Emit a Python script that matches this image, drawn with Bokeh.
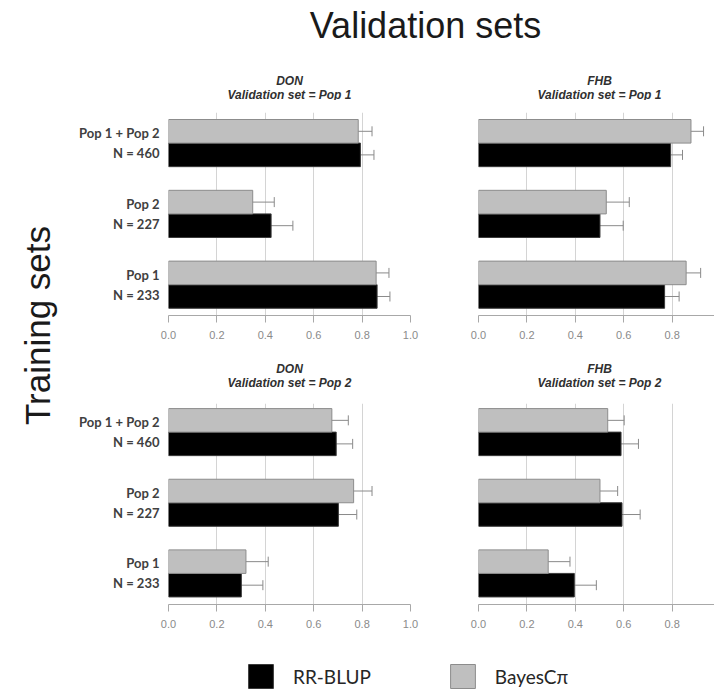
import numpy as np
from bokeh.plotting import figure
from bokeh.layouts import column, row
from bokeh.models import (ColumnDataSource, Range1d, FixedTicker, Whisker, TeeHead,
                          Label, Legend, LegendItem, NumeralTickFormatter)
from bokeh.transform import dodge
from bokeh.embed import file_html
from bokeh.resources import INLINE

# ---------------- data ----------------
categories = ["Pop 1\nN = 233", "Pop 2\nN = 227", "Pop 1 + Pop 2\nN = 460"]  # bottom -> top
x_ticks = [0.0, 0.2, 0.4, 0.6, 0.8, 1.0]
methods = ["RR-BLUP", "BayesCπ"]
traits = ["DON", "FHB"]
validation = ["Validation set = Pop 1", "Validation set = Pop 2"]

don_pop1_rr = [0.862, 0.424, 0.793]
don_pop1_rr_err = [0.053, 0.090, 0.056]
don_pop1_bc = [0.858, 0.348, 0.784]
don_pop1_bc_err = [0.053, 0.089, 0.057]

fhb_pop1_rr = [0.769, 0.502, 0.794]
fhb_pop1_rr_err = [0.060, 0.096, 0.049]
fhb_pop1_bc = [0.858, 0.528, 0.878]
fhb_pop1_bc_err = [0.060, 0.095, 0.052]

don_pop2_rr = [0.301, 0.702, 0.693]
don_pop2_rr_err = [0.089, 0.076, 0.068]
don_pop2_bc = [0.320, 0.765, 0.675]
don_pop2_bc_err = [0.092, 0.076, 0.068]

fhb_pop2_rr = [0.396, 0.593, 0.589]
fhb_pop2_rr_err = [0.091, 0.075, 0.072]
fhb_pop2_bc = [0.288, 0.502, 0.534]
fhb_pop2_bc_err = [0.090, 0.073, 0.068]

# ---------------- style / layout ----------------
W, H = 714, 691
HEADER_H, MID_H, FOOTER_H, SIDE_W = 100, 47, 51, 62
TOP_H, BOT_H = 245, 248
LEFT_W, RIGHT_W = 378, 274
LEFT_BL, RIGHT_BL = 106, 38
PX_PER_UNIT = 242.0

RR_COLOR, RR_LINE = "#000000", "#3a3a3a"
BC_COLOR, BC_LINE = "#bfbfbf", "#8c8c8c"
ERR_COLOR = "#8a8a8a"
GRID_COLOR = "#d4d4d4"
AXIS_COLOR = "#a8a8a8"
TICK_LABEL_COLOR = "#8a8a8a"
TITLE_COLOR = "#303030"
BAR_H = 0.333
OFF = BAR_H / 2


def make_panel(rr, rr_err, bc, bc_err, is_left, is_top):
    width = LEFT_W if is_left else RIGHT_W
    height = TOP_H if is_top else BOT_H
    bl = LEFT_BL if is_left else RIGHT_BL
    br = 30 if is_left else 0
    bt = 12 if is_top else 11
    bb = 30 if is_top else 36
    frame_w = width - bl - br
    yr = Range1d(-0.435, 2.432) if is_top else Range1d(-0.44, 2.405)
    p = figure(width=width, height=height, output_backend="svg", toolbar_location=None,
               x_range=Range1d(0, frame_w / PX_PER_UNIT), y_range=yr,
               min_border_left=bl, min_border_right=br, min_border_top=bt, min_border_bottom=bb,
               y_axis_location="left" if is_left else None)
    p.outline_line_color = None
    p.background_fill_color = "white"
    p.border_fill_color = "white"

    y = list(range(len(categories)))
    src = ColumnDataSource(dict(
        y=y, rr=rr, bc=bc,
        rr_lo=np.array(rr) - np.array(rr_err), rr_hi=np.array(rr) + np.array(rr_err),
        bc_lo=np.array(bc) - np.array(bc_err), bc_hi=np.array(bc) + np.array(bc_err),
    ))
    p.hbar(y=dodge("y", -OFF), left=0, right="rr", height=BAR_H, source=src,
           fill_color=RR_COLOR, line_color=RR_LINE, line_width=1)
    p.hbar(y=dodge("y", OFF), left=0, right="bc", height=BAR_H, source=src,
           fill_color=BC_COLOR, line_color=BC_LINE, line_width=1)
    for base, lo, hi in ((dodge("y", -OFF), "rr_lo", "rr_hi"), (dodge("y", OFF), "bc_lo", "bc_hi")):
        w = Whisker(base=base, lower=lo, upper=hi, dimension="width", source=src,
                    line_color=ERR_COLOR, line_width=1,
                    lower_head=TeeHead(size=10, line_color=ERR_COLOR, line_width=1),
                    upper_head=TeeHead(size=10, line_color=ERR_COLOR, line_width=1))
        p.add_layout(w)

    xa = p.xaxis[0]
    xa.ticker = FixedTicker(ticks=x_ticks)
    xa.formatter = NumeralTickFormatter(format="0.0")
    xa.axis_line_color = AXIS_COLOR
    xa.major_tick_line_color = AXIS_COLOR
    xa.major_tick_in = 0
    xa.major_tick_out = 7
    xa.minor_tick_line_color = None
    xa.major_label_standoff = 8
    xa.major_label_text_font = "Liberation Sans"
    xa.major_label_text_font_size = "11px"
    xa.major_label_text_color = TICK_LABEL_COLOR
    p.xgrid.ticker = FixedTicker(ticks=x_ticks)
    p.xgrid.grid_line_color = GRID_COLOR
    p.ygrid.grid_line_color = None

    if is_left:
        ya = p.yaxis[0]
        ya.ticker = FixedTicker(ticks=y)
        ya.major_label_overrides = {i: c for i, c in enumerate(categories)}
        ya.axis_line_color = None
        ya.major_tick_line_color = None
        ya.minor_tick_line_color = None
        ya.major_tick_in = 0
        ya.major_tick_out = 0
        ya.major_label_standoff = 9
        ya.major_label_text_font = "Lato"
        ya.major_label_text_font_style = "bold"
        ya.major_label_text_font_size = "13px"
        ya.major_label_text_color = "#404040"
        ya.major_label_text_line_height = 1.25
    return p


def blank(width, height):
    f = figure(width=width, height=height, output_backend="svg", toolbar_location=None,
               x_range=Range1d(0, width), y_range=Range1d(0, height),
               min_border=0, x_axis_location=None, y_axis_location=None)
    f.grid.grid_line_color = None
    f.outline_line_color = None
    f.border_fill_color = "white"
    f.background_fill_color = "white"
    return f


def add_panel_titles(strip, x0, strip_h, trait, vtitle, y_trait, y_val):
    # x0: left edge of panel canvas inside the strip; titles centred over the 0..1 frame
    for txt, ys in ((trait, y_trait), (vtitle, y_val)):
        strip.add_layout(Label(x=x0, y=strip_h - ys, text=txt, text_align="center",
                               text_baseline="middle", text_font="Liberation Sans",
                               text_font_size="12px", text_font_style="bold italic",
                               text_color=TITLE_COLOR))


tl = make_panel(don_pop1_rr, don_pop1_rr_err, don_pop1_bc, don_pop1_bc_err, True, True)
tr = make_panel(fhb_pop1_rr, fhb_pop1_rr_err, fhb_pop1_bc, fhb_pop1_bc_err, False, True)
bl_ = make_panel(don_pop2_rr, don_pop2_rr_err, don_pop2_bc, don_pop2_bc_err, True, False)
br_ = make_panel(fhb_pop2_rr, fhb_pop2_rr_err, fhb_pop2_bc, fhb_pop2_bc_err, False, False)

left_cx = LEFT_BL + PX_PER_UNIT / 2
right_cx = LEFT_W + RIGHT_BL + PX_PER_UNIT / 2

# header: main title + titles of the top panels
header = blank(W, HEADER_H)
header.add_layout(Label(x=425, y=HEADER_H - 37 + 12, text="Validation sets", text_align="center",
                        text_baseline="alphabetic", text_font="Liberation Sans",
                        text_font_size="36px", text_color="#1a1a1a"))
add_panel_titles(header, SIDE_W + left_cx, HEADER_H, traits[0], validation[0], 80, 94)
add_panel_titles(header, SIDE_W + right_cx, HEADER_H, traits[1], validation[0], 80, 94)

# strip between the rows: titles of the bottom panels
mid = blank(LEFT_W + RIGHT_W, MID_H)
add_panel_titles(mid, left_cx, MID_H, traits[0], validation[1], 23, 37.5)
add_panel_titles(mid, right_cx, MID_H, traits[1], validation[1], 23, 37.5)

SIDE_H = TOP_H + MID_H + BOT_H
side = blank(SIDE_W, SIDE_H)
side.add_layout(Label(x=37, y=(HEADER_H + SIDE_H) - 325, text="Training sets", angle=np.pi / 2,
                      text_align="center", text_baseline="alphabetic", text_font="Liberation Sans",
                      text_font_size="35px", text_color="#1a1a1a"))

footer = blank(W, FOOTER_H)
# legend-only renderers (kept outside the visible range)
r_rr = footer.hbar(y=[-100], left=[0], right=[1], height=1, fill_color=RR_COLOR, line_color=RR_LINE)
r_bc = footer.hbar(y=[-100], left=[0], right=[1], height=1, fill_color=BC_COLOR, line_color=BC_LINE)
legend = Legend(items=[LegendItem(label=methods[0], renderers=[r_rr]),
                       LegendItem(label=methods[1], renderers=[r_bc])],
                orientation="horizontal", location=(245, 0), glyph_width=31, glyph_height=30,
                label_standoff=17, spacing=76, padding=0, margin=0,
                border_line_color=None, background_fill_alpha=0,
                label_text_font="Lato", label_text_font_size="19px", label_text_color="#262626")
footer.add_layout(legend)

layout = column(header,
                row(side, column(row(tl, tr), mid, row(bl_, br_))),
                footer)

with open("out.html", "w") as fh:
    fh.write(file_html(layout, INLINE))
